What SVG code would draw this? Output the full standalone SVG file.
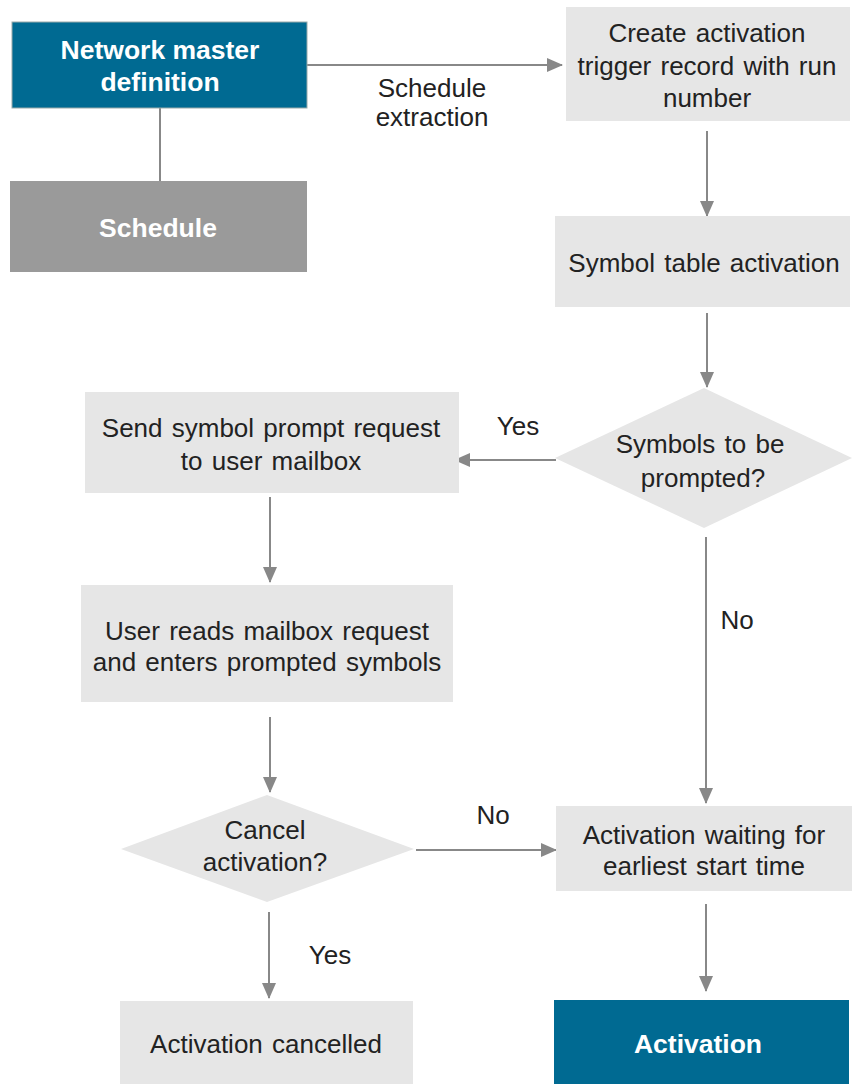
<svg xmlns="http://www.w3.org/2000/svg" width="853" height="1084" viewBox="0 0 853 1084">
  <style>
    .box { fill: #e6e6e6; }
    .blue { fill: #006a92; }
    .grey { fill: #9a9a9a; }
    .lbl { font-family: "Liberation Sans", Arial, sans-serif; font-size: 26px; word-spacing: 2px; fill: #222; text-anchor: middle; }
    .hd { font-family: "Liberation Sans", Arial, sans-serif; font-size: 26.5px; font-weight: bold; fill: #fff; text-anchor: middle; }
    .ln { stroke: #888; stroke-width: 2; fill: none; }
    .arr { marker-end: url(#tip); }
  </style>
  <defs>
    <marker id="tip" markerUnits="userSpaceOnUse" markerWidth="16" markerHeight="14" refX="15" refY="7" orient="auto">
      <path d="M0,0 L16,7 L0,14 Z" fill="#888"/>
    </marker>
  </defs>
  <rect width="853" height="1084" fill="#fff"/>

  <g id="connectors">
    <path class="ln arr" d="M307,65 H562"/>
    <path class="ln" d="M160,108 V181"/>
    <path class="ln arr" d="M707,131 V216"/>
    <path class="ln arr" d="M707,313 V387"/>
    <path class="ln arr" d="M556,460 H455"/>
    <path class="ln arr" d="M270,497 V582"/>
    <path class="ln arr" d="M270,717 V792"/>
    <path class="ln arr" d="M706,537 V803"/>
    <path class="ln arr" d="M416,850 H556"/>
    <path class="ln arr" d="M269,912 V998"/>
    <path class="ln arr" d="M706,904 V991"/>
  </g>

  <g id="network-master">
    <rect class="blue" x="12" y="22" width="295" height="86" stroke="#9aa" stroke-width="1"/>
    <text class="hd" x="160" y="59">Network master</text>
    <text class="hd" x="160" y="91">definition</text>
  </g>
  <g id="schedule">
    <rect class="grey" x="10" y="181" width="297" height="91"/>
    <text class="hd" x="158" y="237">Schedule</text>
  </g>
  <g id="label-extraction">
    <text class="lbl" x="432" y="97">Schedule</text>
    <text class="lbl" x="432" y="126">extraction</text>
  </g>
  <g id="create-trigger">
    <rect class="box" x="566" y="7" width="284" height="114"/>
    <text class="lbl" x="707" y="42">Create activation</text>
    <text class="lbl" x="707" y="75">trigger record with run</text>
    <text class="lbl" x="707" y="107">number</text>
  </g>
  <g id="symbol-table">
    <rect class="box" x="555" y="216" width="295" height="91"/>
    <text class="lbl" x="704" y="272">Symbol table activation</text>
  </g>
  <g id="symbols-prompted">
    <polygon class="box" points="555,458 704,388 852,458 704,528"/>
    <text class="lbl" x="700" y="453">Symbols to be</text>
    <text class="lbl" x="703" y="487">prompted?</text>
  </g>
  <g id="label-yes-1">
    <text class="lbl" x="518" y="435">Yes</text>
  </g>
  <g id="send-prompt">
    <rect class="box" x="85" y="392" width="374" height="101"/>
    <text class="lbl" x="271" y="437">Send symbol prompt request</text>
    <text class="lbl" x="271" y="470">to user mailbox</text>
  </g>
  <g id="user-reads">
    <rect class="box" x="81" y="585" width="372" height="117"/>
    <text class="lbl" x="267" y="640">User reads mailbox request</text>
    <text class="lbl" x="267" y="671">and enters prompted symbols</text>
  </g>
  <g id="label-no-1">
    <text class="lbl" x="737" y="629">No</text>
  </g>
  <g id="cancel-activation">
    <polygon class="box" points="121,849 267,795 414,849 267,902"/>
    <text class="lbl" x="265" y="839">Cancel</text>
    <text class="lbl" x="265" y="871">activation?</text>
  </g>
  <g id="label-no-2">
    <text class="lbl" x="493" y="824">No</text>
  </g>
  <g id="waiting">
    <rect class="box" x="556" y="806" width="296" height="85"/>
    <text class="lbl" x="704" y="844">Activation waiting for</text>
    <text class="lbl" x="704" y="875">earliest start time</text>
  </g>
  <g id="label-yes-2">
    <text class="lbl" x="330" y="964">Yes</text>
  </g>
  <g id="cancelled">
    <rect class="box" x="120" y="1001" width="293" height="83"/>
    <text class="lbl" x="266" y="1053">Activation cancelled</text>
  </g>
  <g id="activation">
    <rect class="blue" x="554" y="1000" width="295" height="84"/>
    <text class="hd" x="698" y="1053">Activation</text>
  </g>
</svg>
